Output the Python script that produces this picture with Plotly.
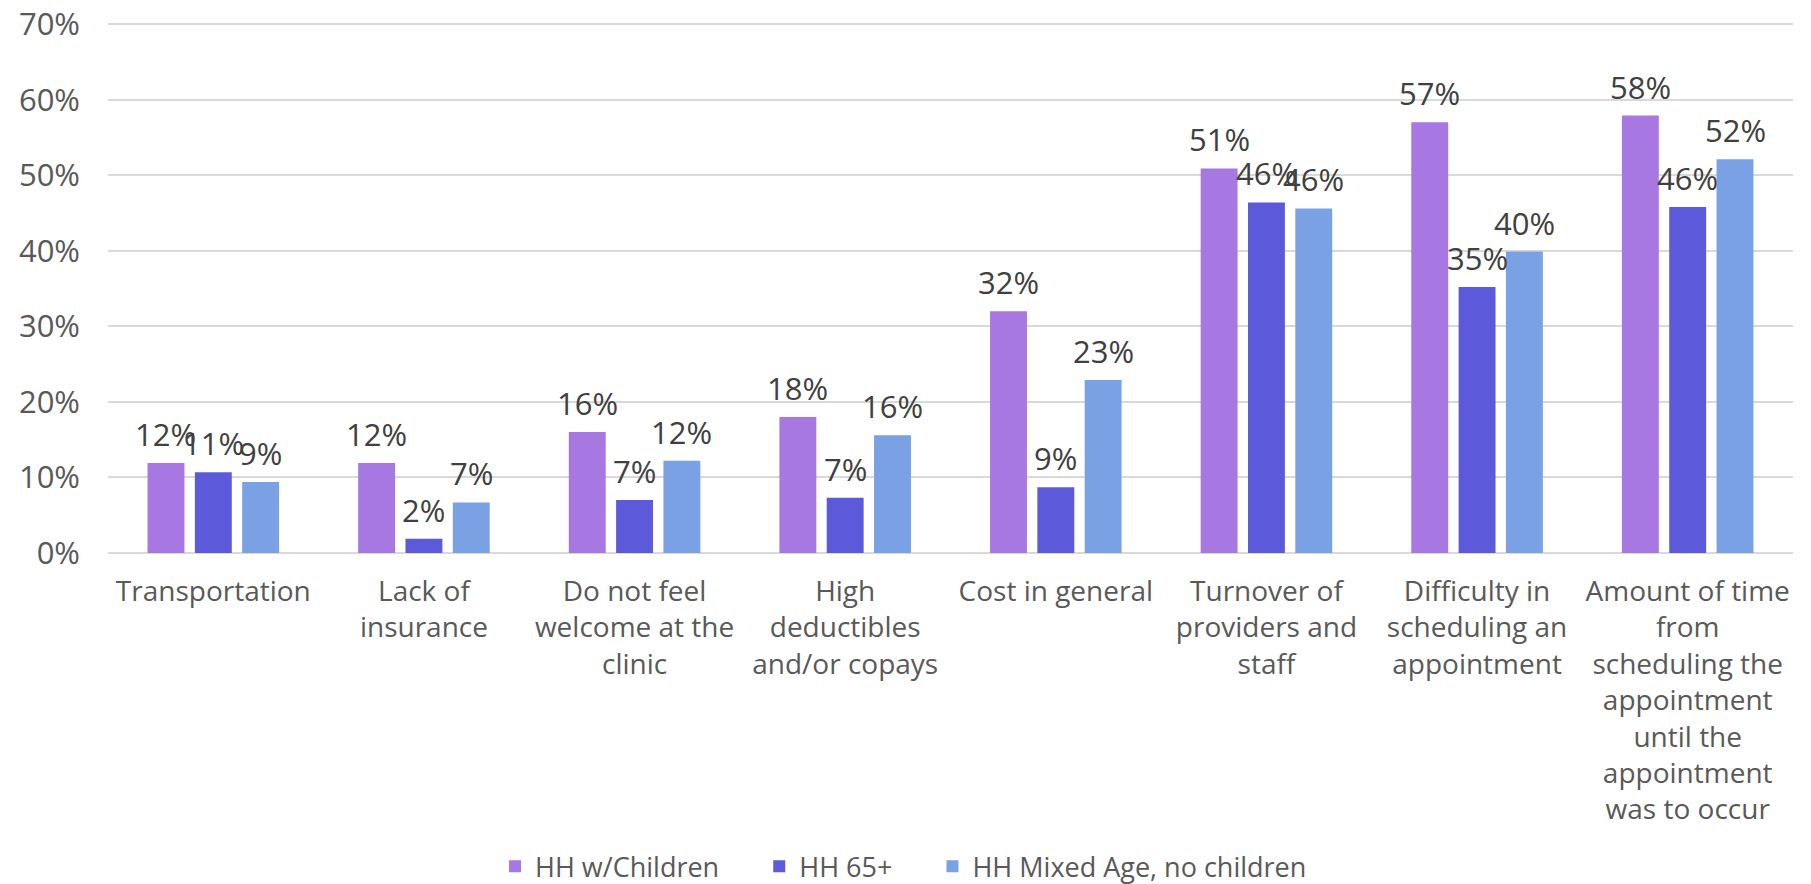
import plotly.graph_objects as go

categories = [
    "Transportation",
    "Lack of<br>insurance",
    "Do not feel<br>welcome at the<br>clinic",
    "High<br>deductibles<br>and/or copays",
    "Cost in general",
    "Turnover of<br>providers and<br>staff",
    "Difficulty in<br>scheduling an<br>appointment",
    "Amount of time<br>from<br>scheduling the<br>appointment<br>until the<br>appointment<br>was to occur",
]
series_names = ["HH w/Children", "HH 65+", "HH Mixed Age, no children"]
hh_children = [0.119, 0.119, 0.160, 0.180, 0.320, 0.509, 0.570, 0.579]
hh_65 = [0.107, 0.019, 0.070, 0.073, 0.087, 0.464, 0.352, 0.458]
hh_mixed = [0.094, 0.067, 0.122, 0.156, 0.229, 0.456, 0.399, 0.521]
series_values = [hh_children, hh_65, hh_mixed]
colors = ["#A778E2", "#5C5ADB", "#7AA1E3"]
y_ticks = [0, 0.1, 0.2, 0.3, 0.4, 0.5, 0.6, 0.7]
y_tick_labels = ["0%", "10%", "20%", "30%", "40%", "50%", "60%", "70%"]

W, H = 1811, 884
ML, MR, MT, MB = 100, 26, 15, 339
BARGAP = 0.326
FONT = "Open Sans"
FS = 28
NUM_FS = 31
LEG_FS = 27
LEGEND_PAD = "\u00a0" * 5

fig = go.Figure()
for k, (name, vals, col) in enumerate(zip(series_names, series_values, colors)):
    label = name + (LEGEND_PAD if k < len(series_names) - 1 else "")
    fig.add_trace(go.Bar(
        x=categories, y=vals, name=label,
        marker=dict(color=col, line=dict(width=0)),
        hoverinfo="skip",
    ))

# data labels as annotations centered over each grouped bar
plot_w = W - ML - MR
cat_w = plot_w / len(categories)
slot = cat_w * (1 - BARGAP) / len(series_names)
annotations = []
for i, vals in enumerate(series_values):
    offset = (i - (len(series_names) - 1) / 2) * slot
    for c, v in zip(categories, vals):
        annotations.append(dict(
            x=c, y=v, xref="x", yref="y",
            text=f"{round(v * 100):d}%",
            showarrow=False, xanchor="center", yanchor="bottom",
            xshift=offset, yshift=6,
            font=dict(family=FONT, size=NUM_FS, color="#404040"),
        ))

fig.update_layout(
    width=W, height=H,
    margin=dict(l=ML, r=MR, t=MT, b=MB, autoexpand=False),
    paper_bgcolor="white", plot_bgcolor="white",
    barmode="group", bargap=BARGAP, bargroupgap=0.22,
    font=dict(family=FONT, size=FS, color="#595959"),
    annotations=annotations,
    legend=dict(
        orientation="h", x=0.2297, xanchor="left", y=-0.592, yanchor="middle",
        font=dict(family=FONT, size=LEG_FS, color="#595959"),
        itemwidth=30,
    ),
    showlegend=True,
)
fig.update_yaxes(
    range=[0, 0.7015], tickvals=y_ticks, ticktext=y_tick_labels,
    showgrid=True, gridcolor="#D9D9D9", gridwidth=1.5,
    zeroline=True, zerolinecolor="#D9D9D9", zerolinewidth=1.5,
    showline=False, ticks="", ticklabelstandoff=27, automargin=False,
    ticklabeloverflow="allow",
    tickfont=dict(family=FONT, size=NUM_FS, color="#595959"),
)
fig.update_xaxes(
    showgrid=False, showline=False, ticks="",
    tickangle=0, ticklabelstandoff=19, automargin=False,
    tickfont=dict(family=FONT, size=FS, color="#595959"),
)

fig.write_html("out.html")
